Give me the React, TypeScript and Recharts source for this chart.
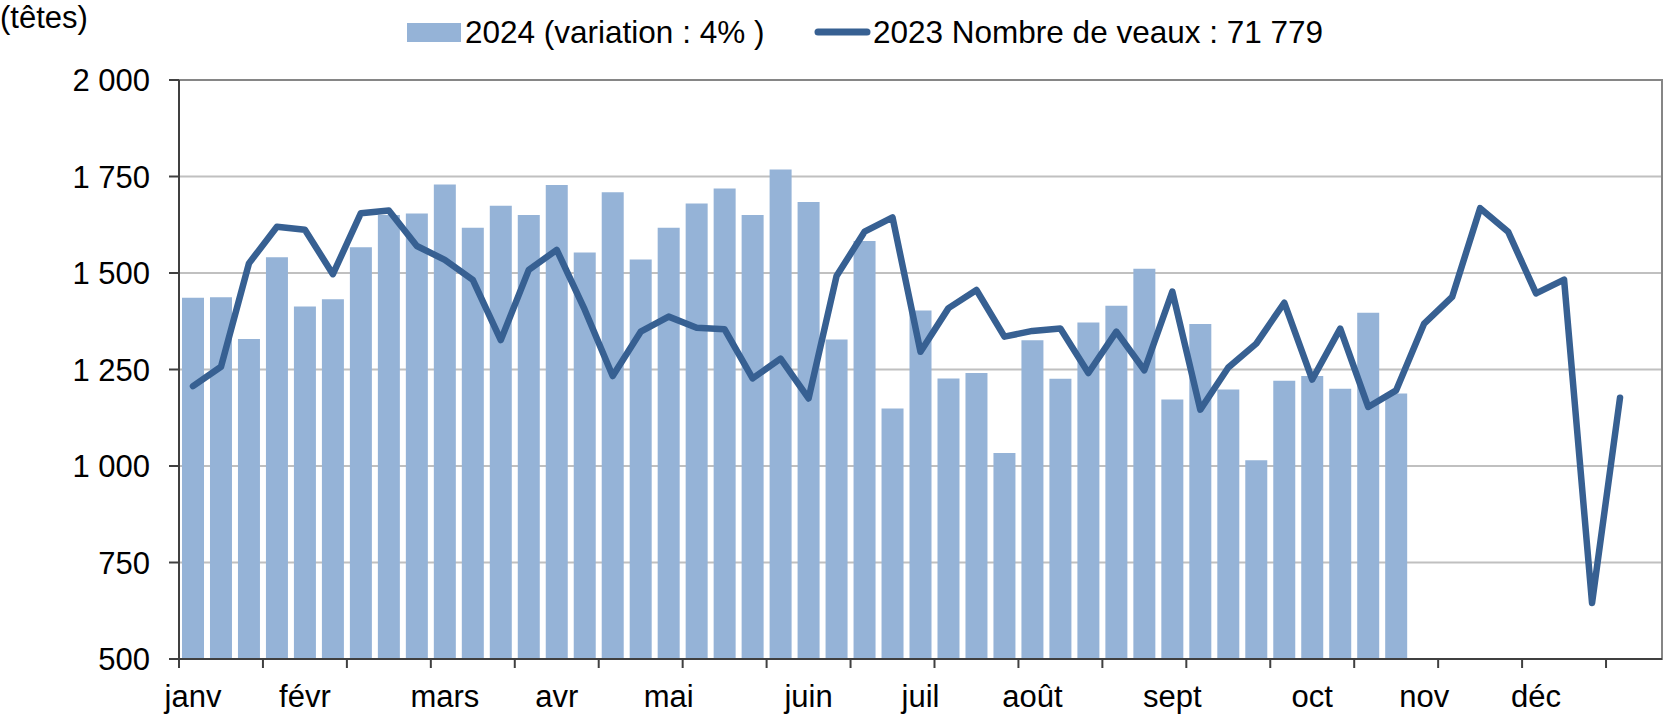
import { Bar, CartesianGrid, ComposedChart, Line, ReferenceArea, XAxis, YAxis } from "recharts";

const weeks = [
  "S1", "S2", "S3", "S4", "S5", "S6", "S7", "S8", "S9", "S10",
  "S11", "S12", "S13", "S14", "S15", "S16", "S17", "S18", "S19", "S20",
  "S21", "S22", "S23", "S24", "S25", "S26", "S27", "S28", "S29", "S30",
  "S31", "S32", "S33", "S34", "S35", "S36", "S37", "S38", "S39", "S40",
  "S41", "S42", "S43", "S44", "S45", "S46", "S47", "S48", "S49", "S50",
  "S51", "S52", "S53",
];

// 2024 : semaines 1 à 44
const veaux2024 = [
  1436, 1437, 1329, 1541, 1413, 1432, 1567, 1650, 1654, 1729,
  1617, 1674, 1650, 1728, 1553, 1709, 1535, 1617, 1680, 1719,
  1650, 1768, 1684, 1328, 1583, 1149, 1403, 1227, 1241, 1034,
  1326, 1226, 1372, 1415, 1511, 1172, 1368, 1198, 1015, 1221,
  1233, 1200, 1397, 1188,
];

// 2023 : semaines 1 à 52
const veaux2023 = [
  1207, 1257, 1525, 1620, 1612, 1497, 1655, 1662, 1570, 1534,
  1482, 1326, 1508, 1560, 1405, 1233, 1348, 1387, 1358, 1354,
  1227, 1278, 1175, 1492, 1607, 1644, 1296, 1409, 1456, 1335,
  1350, 1356, 1241, 1348, 1248, 1452, 1146, 1255, 1317, 1423,
  1224, 1356, 1153, 1196, 1369, 1438, 1668, 1607, 1447, 1483,
  645, 1177,
];

const monthWeek = [0, 4, 9, 13, 17, 22, 26, 30, 35, 40, 44, 48];
const monthNames = ["janv", "févr", "mars", "avr", "mai", "juin", "juil", "août", "sept", "oct", "nov", "déc"];
const yTicks = [500, 750, 1000, 1250, 1500, 1750, 2000];

const legend2024 = "2024 (variation : 4% )";
const legend2023 = "2023 Nombre de veaux : 71 779";

const data = weeks.map((w, i) => ({
  week: w,
  v2024: i < veaux2024.length ? veaux2024[i] : null,
  v2023: i < veaux2023.length ? veaux2023[i] : null,
}));

const W = 1665;
const H = 719;
const LEFT = 179;
const RIGHT = 3;
const CAT_W = (W - LEFT - RIGHT) / weeks.length;
const FONT = "'Liberation Sans', Arial, sans-serif";
const BAR = "#95b3d7";
const LINE = "#376092";

const fmt = (v: number) => (v >= 1000 ? `${Math.floor(v / 1000)} ${String(v % 1000).padStart(3, "0")}` : String(v));

function WeekTick(props: any) {
  const { x, y, payload } = props;
  const i = payload.index;
  const m = monthWeek.indexOf(i);
  const left = x - CAT_W / 2;
  return (
    <g>
      {i % 3 === 0 && <line x1={left} x2={left} y1={y} y2={y + 9} stroke="#404040" strokeWidth={2} />}
      {m >= 0 && (
        <text x={x} y={y + 48} textAnchor="middle" fontSize={31} fontFamily={FONT} fill="#000">
          {monthNames[m]}
        </text>
      )}
    </g>
  );
}

export default function App() {
  return (
    <div style={{ position: "relative", width: W, height: H, background: "#fff" }}>
      <style>{`body{margin:0}`}</style>
      <ComposedChart
        width={W}
        height={H}
        data={data}
        margin={{ top: 80, right: RIGHT, bottom: 0, left: 0 }}
        barCategoryGap={0}
      >
        <CartesianGrid vertical={false} stroke="#c0c0c0" strokeWidth={2} />
        <ReferenceArea y1={500} y2={2000} fill="none" stroke="#868686" strokeWidth={2} />
        <XAxis
          dataKey="week"
          interval={0}
          height={60}
          tickSize={0}
          tickMargin={0}
          tickLine={false}
          axisLine={{ stroke: "#404040", strokeWidth: 2 }}
          tick={<WeekTick />}
        />
        <YAxis
          domain={[500, 2000]}
          ticks={yTicks}
          width={LEFT}
          tickSize={10}
          tickMargin={19}
          tickFormatter={fmt}
          axisLine={{ stroke: "#404040", strokeWidth: 2 }}
          tickLine={{ stroke: "#404040", strokeWidth: 2 }}
          tick={{ fill: "#000", fontSize: 31, fontFamily: FONT }}
        />
        <Bar dataKey="v2024" fill={BAR} barSize={22} isAnimationActive={false} />
        <Line
          dataKey="v2023"
          stroke={LINE}
          strokeWidth={6.5}
          strokeLinejoin="round"
          strokeLinecap="round"
          dot={false}
          activeDot={false}
          connectNulls={false}
          isAnimationActive={false}
        />
      </ComposedChart>
      <svg width={W} height={70} style={{ position: "absolute", left: 0, top: 0, pointerEvents: "none" }}>
        <text x={0} y={28} fontSize={31} fontFamily={FONT} fill="#000">(têtes)</text>
        <rect x={407} y={23} width={54} height={19} fill={BAR} />
        <text x={465} y={43} fontSize={31.5} fontFamily={FONT} fill="#000">{legend2024}</text>
        <line x1={818} x2={867} y1={32} y2={32} stroke={LINE} strokeWidth={7} strokeLinecap="round" />
        <text x={873} y={43} fontSize={31.5} fontFamily={FONT} fill="#000">{legend2023}</text>
      </svg>
    </div>
  );
}
